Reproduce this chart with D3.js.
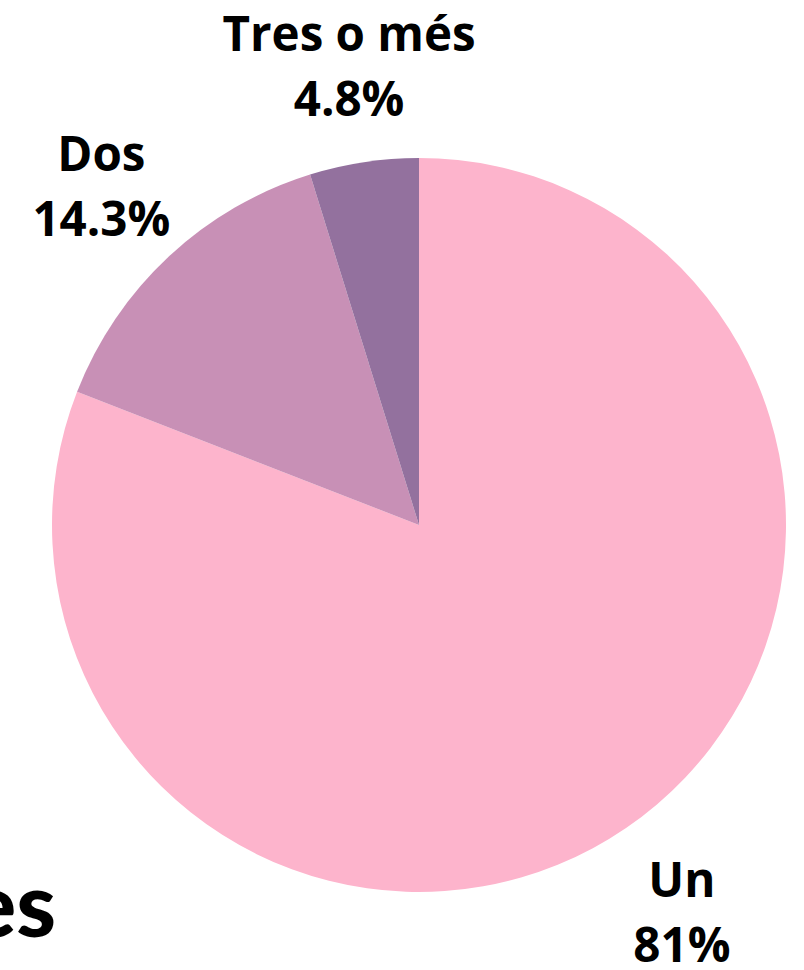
<!DOCTYPE html>
<html>
<head>
<meta charset="utf-8">
<script src="https://cdn.jsdelivr.net/npm/d3@7"></script>
<style>
  body { margin: 0; background: #fff; }
  svg { display: block; }
  .label { font-family: "Open Sans", sans-serif; font-weight: 700; font-size: 47.5px; fill: #000; }
  .title { font-family: Lato, "Open Sans", sans-serif; font-weight: 900; font-size: 90px; fill: #000; }
</style>
</head>
<body>
<script>
//chart data
var categories = ["Un", "Dos", "Tres o més"];
var values = [81, 14.3, 4.8];
var valueLabels = ["81%", "14.3%", "4.8%"];
var colors = ["#fdb4cc", "#c890b6", "#93719e"];

window.onload = drawPie();

function drawPie(){

    var width = 804,
        height = 970,
        radius = 367;

    var svg = d3.select("body")
        .append("svg")
        .attr("width", width)
        .attr("height", height);

    //cut-off title fragment at bottom left
    svg.append("text")
        .attr("class", "title")
        .attr("x", 56)
        .attr("y", 937)
        .attr("text-anchor", "end")
        .text("es");

    var g = svg.append("g")
        .attr("transform", "translate(419,525)");

    var pie = d3.pie()
        .sort(null)
        .value(function(d){ return d; });

    var arcs = pie(values);

    var arc = d3.arc()
        .innerRadius(0)
        .outerRadius(radius);

    var labelArc = d3.arc()
        .innerRadius(466)
        .outerRadius(466);

    g.selectAll(".slice")
        .data(arcs)
        .enter()
        .append("path")
        .attr("class", "slice")
        .attr("d", arc)
        .attr("fill", function(d, i){ return colors[i]; });

    //two-line labels outside the pie
    var labels = g.selectAll(".label")
        .data(arcs)
        .enter()
        .append("text")
        .attr("class", "label")
        .attr("text-anchor", "middle")
        .attr("transform", function(d){
            var c = labelArc.centroid(d);
            return "translate(" + c[0] + "," + c[1] + ")";
        });

    labels.append("tspan")
        .attr("x", 0)
        .attr("y", -13)
        .text(function(d, i){ return categories[i]; });

    labels.append("tspan")
        .attr("x", 0)
        .attr("y", 52)
        .text(function(d, i){ return valueLabels[i]; });
}
</script>
</body>
</html>
